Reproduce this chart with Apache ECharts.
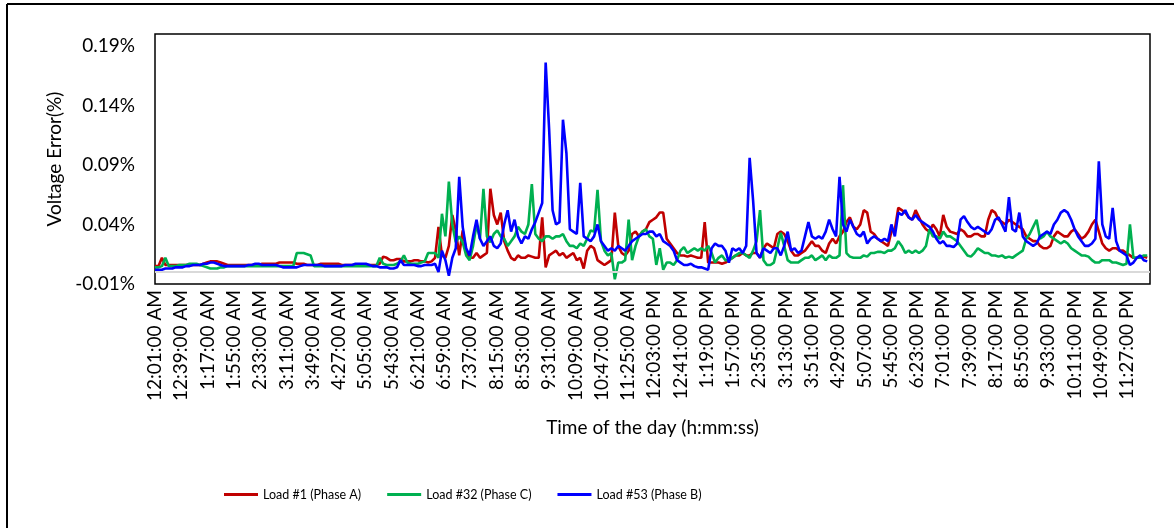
<!DOCTYPE html>
<html>
<head>
<meta charset="utf-8">
<title>Voltage Error</title>
<script src="https://cdn.jsdelivr.net/npm/echarts@6/dist/echarts.min.js"></script>
<style>
	html, body {margin: 0; padding: 0; background: #fff;}
	#chart {width: 1174px; height: 528px;}
</style>
</head>
<body>
<div id="chart"></div>
<script>
// time labels shown on the x axis, one every 38 minutes starting 12:01 AM
const timeLabels = ['12:01:00 AM','12:39:00 AM','1:17:00 AM','1:55:00 AM','2:33:00 AM','3:11:00 AM','3:49:00 AM','4:27:00 AM',
	'5:05:00 AM','5:43:00 AM','6:21:00 AM','6:59:00 AM','7:37:00 AM','8:15:00 AM','8:53:00 AM','9:31:00 AM',
	'10:09:00 AM','10:47:00 AM','11:25:00 AM','12:03:00 PM','12:41:00 PM','1:19:00 PM','1:57:00 PM','2:35:00 PM',
	'3:13:00 PM','3:51:00 PM','4:29:00 PM','5:07:00 PM','5:45:00 PM','6:23:00 PM','7:01:00 PM','7:39:00 PM',
	'8:17:00 PM','8:55:00 PM','9:33:00 PM','10:11:00 PM','10:49:00 PM','11:27:00 PM'];
const labelStep = 38;     // minutes between two labels
const sampleStep = 5;     // minutes between two read values

// y tick labels, in thousandths of a percent
const yTicks = [-10, 40, 90, 140, 190];

const seriesNames = ['Load #1 (Phase A)', 'Load #32 (Phase C)', 'Load #53 (Phase B)'];
const seriesColors = ['#C00000', '#00B050', '#0000FF'];

// values, thousandths of a percent, one row per hour (every 5 min)
const loadA = [
	5,5,12,6,6,6,6,6,6,6,6,6,
	6,6,7,8,9,9,9,8,7,6,6,6,
	6,6,6,6,6,6,6,7,7,7,7,7,
	8,8,8,8,8,7,7,7,6,6,6,6,
	7,7,7,7,7,7,6,6,6,6,6,6,
	6,6,6,6,6,7,13,12,10,10,11,11,
	9,9,9,10,10,9,9,8,9,12,38,14,
	12,22,48,35,14,35,18,12,12,16,12,14,
	16,70,48,40,50,26,18,12,10,14,12,12,
	14,13,12,12,46,4,14,16,18,14,16,12,
	14,16,10,12,3,18,22,20,10,8,6,8,
	10,50,22,16,14,18,32,34,30,34,36,42,
	44,46,50,50,28,24,20,16,14,14,13,14,
	13,12,12,42,8,8,8,8,7,8,10,12,
	14,14,16,14,14,16,16,12,20,24,22,20,
	32,34,32,26,18,14,14,16,18,22,26,22,
	22,18,16,24,28,24,30,34,42,46,38,36,
	40,52,50,34,32,28,26,24,22,34,36,54,
	52,50,46,44,52,46,40,36,34,40,36,30,
	48,38,34,33,32,36,34,30,30,32,32,30,
	30,44,52,50,44,42,40,44,42,40,38,36,
	30,28,26,26,22,20,20,22,30,34,32,30,
	30,34,36,32,28,30,34,40,44,34,24,20,
	18,20,20,18,18,16,14,12,12,12,13,12
];
const loadC = [
	4,4,5,12,5,5,5,6,6,6,7,7,
	7,6,5,4,3,3,3,4,4,5,5,5,
	5,5,5,5,5,5,5,5,5,5,5,5,
	5,5,5,5,5,16,16,16,15,14,5,5,
	5,5,5,5,5,5,5,5,5,5,5,5,
	5,5,5,5,5,12,7,6,6,6,7,9,
	14,8,7,7,7,8,9,16,16,16,12,49,
	30,76,40,25,30,25,14,10,22,40,28,70,
	30,25,32,35,30,28,22,26,30,38,34,32,
	40,74,32,28,26,30,30,28,30,30,32,26,
	22,22,20,24,22,28,35,34,69,26,18,14,
	16,-6,8,8,10,44,10,22,30,34,36,30,
	28,6,20,2,8,8,6,10,18,21,16,18,
	20,18,20,18,22,16,8,12,14,10,10,12,
	14,16,16,14,12,18,26,52,10,6,6,8,
	20,33,22,10,8,8,8,10,12,12,14,10,
	12,14,10,14,12,12,14,73,16,13,12,12,
	12,14,13,16,16,17,17,16,18,18,20,26,
	22,16,18,16,18,16,18,22,36,30,30,28,
	34,30,30,28,26,22,18,14,13,16,20,18,
	16,16,14,14,13,14,12,13,12,14,16,18,
	28,32,38,44,28,30,34,30,28,26,24,26,
	24,20,18,16,14,14,13,10,8,8,10,10,
	10,8,8,7,6,7,40,12,12,12,14,14
];
const loadB = [
	2,2,2,3,3,3,4,4,4,5,5,6,
	6,6,7,7,8,8,7,6,5,5,5,5,
	5,5,5,6,6,7,7,6,6,6,6,6,
	5,4,4,4,4,4,5,6,6,6,6,6,
	6,5,5,5,5,5,5,6,6,6,7,7,
	7,7,6,5,5,4,4,4,3,3,4,10,
	6,6,6,6,5,5,6,6,6,7,0,18,
	10,-3,12,20,80,38,20,14,30,44,28,22,
	26,30,22,20,24,40,52,34,44,30,24,30,
	28,36,42,50,58,176,120,52,40,42,128,100,
	36,34,32,75,30,28,26,30,40,26,22,18,
	20,18,22,20,18,22,26,28,30,32,32,34,
	34,30,32,26,24,22,18,10,8,6,6,7,
	5,4,4,3,2,20,24,22,22,18,8,20,
	18,20,16,22,96,60,16,12,20,18,16,20,
	20,14,22,34,18,20,16,18,30,42,30,28,
	30,28,34,44,36,30,80,40,34,44,38,32,
	30,34,24,28,30,28,26,28,26,40,30,50,
	48,52,46,44,48,44,42,40,38,34,28,24,
	26,22,22,21,24,44,47,42,38,36,38,36,
	34,32,36,44,46,40,34,63,36,34,50,30,
	26,24,22,24,30,32,34,32,40,44,50,52,
	50,44,36,30,26,22,22,24,28,93,40,30,
	28,54,26,18,16,14,6,8,12,14,10,9
];

const FONT = 'Lato';

function pairUp(values) {
	let out = [];
	for (let i = 0; i < values.length; i++) {
		out.push([i * sampleStep, values[i]]);
	}
	return out;
}

function renderChart() {
	let myChart = echarts.init(document.getElementById('chart'), null, {renderer: 'canvas'});
	let allData = [loadA, loadC, loadB];
	let series = [];
	for (let i = 0; i < 3; i++) {
		let s = {
			name: seriesNames[i],
			type: 'line',
			data: pairUp(allData[i]),
			showSymbol: false,
			symbol: 'none',
			lineStyle: {color: seriesColors[i], width: 2.6},
			itemStyle: {color: seriesColors[i]},
			z: 3 + i
		};
		if (i === 0) {
			// light zero line under the curves
			s.markLine = {
				silent: true,
				symbol: 'none',
				label: {show: false},
				lineStyle: {color: '#D9D9D9', width: 2, type: 'solid'},
				data: [{yAxis: 0}]
			};
		}
		series.push(s);
	}

	myChart.setOption({
		animation: false,
		backgroundColor: '#fff',
		textStyle: {fontFamily: FONT},
		graphic: [
			{type: 'line', shape: {x1: 7, y1: 4, x2: 1174, y2: 4}, style: {stroke: '#000', lineWidth: 2}},
			{type: 'line', shape: {x1: 7, y1: 4, x2: 7, y2: 528}, style: {stroke: '#000', lineWidth: 2}}
		],
		grid: {
			left: 155, top: 34, right: 24, bottom: 244,
			show: true, borderColor: '#000', borderWidth: 1.5, backgroundColor: '#fff'
		},
		legend: {
			left: 219, top: 483,
			icon: 'rect', itemWidth: 34, itemHeight: 3, itemGap: 26,
			textStyle: {fontFamily: FONT, fontSize: 12.5, color: '#000'},
			data: seriesNames
		},
		xAxis: {
			type: 'value',
			min: 0, max: 1439, interval: labelStep,
			name: 'Time of the day (h:mm:ss)',
			nameLocation: 'middle', nameGap: 134,
			nameTextStyle: {fontFamily: FONT, fontSize: 19, color: '#000'},
			axisLine: {show: false},
			axisTick: {show: false},
			splitLine: {show: false},
			axisLabel: {
				rotate: 90, margin: 6, fontFamily: FONT, fontSize: 19, color: '#000',
				showMaxLabel: false,
				formatter: function (v) {
					let k = Math.round(v / labelStep);
					return timeLabels[k] || '';
				}
			}
		},
		yAxis: {
			type: 'value',
			min: -10, max: 200,
			name: 'Voltage Error(%)',
			nameLocation: 'middle', nameGap: 91, nameRotate: 90,
			nameTextStyle: {fontFamily: FONT, fontSize: 19, color: '#000'},
			axisLine: {show: false},
			axisTick: {show: false},
			splitLine: {show: false},
			axisLabel: {
				customValues: yTicks,
				margin: 20, fontFamily: FONT, fontSize: 19, color: '#000',
				formatter: function (v) { return (v / 1000).toFixed(2) + '%'; }
			}
		},
		series: series
	});
}

renderChart();
</script>
</body>
</html>
